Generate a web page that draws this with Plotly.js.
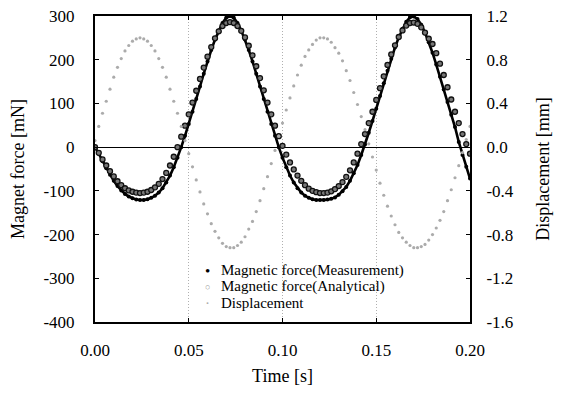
<!DOCTYPE html>
<html>
<head>
<meta charset="utf-8">
<script src="https://cdn.plot.ly/plotly-3.0.1.min.js"></script>
<style>html,body{margin:0;padding:0;background:#fff;}#chart{width:566px;height:396px;}</style>
</head>
<body>
<div id="chart"></div>
<script>
// Time [s]
const time = [0.000,0.002,0.004,0.006,0.008,0.010,0.012,0.014,0.016,0.018,
0.020,0.022,0.024,0.026,0.028,0.030,0.032,0.034,0.036,0.038,
0.040,0.042,0.044,0.046,0.048,0.050,0.052,0.054,0.056,0.058,
0.060,0.062,0.064,0.066,0.068,0.070,0.072,0.074,0.076,0.078,
0.080,0.082,0.084,0.086,0.088,0.090,0.092,0.094,0.096,0.098,
0.100,0.102,0.104,0.106,0.108,0.110,0.112,0.114,0.116,0.118,
0.120,0.122,0.124,0.126,0.128,0.130,0.132,0.134,0.136,0.138,
0.140,0.142,0.144,0.146,0.148,0.150,0.152,0.154,0.156,0.158,
0.160,0.162,0.164,0.166,0.168,0.170,0.172,0.174,0.176,0.178,
0.180,0.182,0.184,0.186,0.188,0.190,0.192,0.194,0.196,0.198,0.200];

// Magnetic force, measurement [mN]
const forceMeasured = [0,-15,-32,-48,-63,-77,-89,-99,-107,-113,
-117,-120,-121,-121,-119,-116,-111,-104,-94,-81,
-65,-46,-24,0,26,53,81,110,139,168,
196,222,246,267,284,296,300,296,284,267,
246,222,196,168,139,110,81,53,26,0,
-24,-46,-65,-81,-94,-104,-111,-116,-119,-121,
-121,-121,-120,-118,-115,-109,-101,-91,-77,-60,
-41,-18,6,33,60,88,117,146,175,202,
228,251,271,287,297,299,293,280,262,240,
216,189,161,132,103,74,46,12,-18,-45,-72];

// Magnetic force, analytical [mN]
const forceAnalytical = [0,-13,-28,-42,-55,-67,-78,-87,-94,-99,
-102,-104,-105,-104,-102,-98,-92,-84,-73,-59,
-42,-22,0,24,49,75,102,129,156,182,
207,229,249,265,277,284,286,284,277,266,
251,232,210,185,158,130,102,75,49,25,
3,-17,-35,-51,-65,-77,-87,-95,-100,-103,
-105,-105,-104,-101,-96,-89,-80,-68,-53,-35,
-15,7,30,55,81,108,135,162,188,212,
233,252,267,278,284,285,282,274,262,248,
236,215,191,165,137,109,81,55,30,7,-15];

// Displacement [mm]
const displacement = [0.06,0.19,0.31,0.42,0.53,0.64,0.73,0.81,0.88,0.93,
0.97,0.99,1.00,0.99,0.97,0.93,0.88,0.81,0.73,0.64,
0.53,0.42,0.31,0.19,0.06,-0.06,-0.18,-0.30,-0.41,-0.52,
-0.61,-0.70,-0.77,-0.83,-0.88,-0.91,-0.92,-0.92,-0.90,-0.87,
-0.82,-0.75,-0.68,-0.59,-0.49,-0.38,-0.27,-0.15,-0.03,0.10,
0.22,0.34,0.45,0.56,0.66,0.75,0.83,0.89,0.94,0.98,
1.00,1.00,0.99,0.96,0.91,0.86,0.79,0.70,0.61,0.50,
0.39,0.28,0.16,0.03,-0.09,-0.21,-0.33,-0.44,-0.54,-0.63,
-0.71,-0.78,-0.83,-0.87,-0.90,-0.92,-0.92,-0.91,-0.89,-0.85,
-0.80,-0.74,-0.67,-0.59,-0.49,-0.39,-0.28,-0.17,-0.05,0.07,0.19];

// Tick labels
const xTickVals = [0, 0.05, 0.10, 0.15, 0.20];
const xTickText = ['0.00', '0.05', '0.10', '0.15', '0.20'];
const yTickVals = [-400, -300, -200, -100, 0, 100, 200, 300];
const yTickText = ['-400', '-300', '-200', '-100', '0', '100', '200', '300'];
const y2TickVals = [-1.6, -1.2, -0.8, -0.4, 0.0, 0.4, 0.8, 1.2];
const y2TickText = ['-1.6', '-1.2', '-0.8', '-0.4', '0.0', '0.4', '0.8', '1.2'];

// Legend entries
const seriesNames = ['Magnetic force(Measurement)', 'Magnetic force(Analytical)', 'Displacement'];

const serif = "'Liberation Serif', 'Times New Roman', serif";
const tickFont = {family: serif, size: 17, color: '#000'};
const titleFont = {family: serif, size: 18, color: '#000'};

const traces = [
  {
    x: time, y: forceMeasured, type: 'scatter', mode: 'lines+markers',
    name: seriesNames[0], showlegend: false,
    line: {color: '#000', width: 2.6},
    marker: {color: '#000', size: 4}
  },
  {
    x: time, y: forceAnalytical, type: 'scatter', mode: 'markers',
    name: seriesNames[1], showlegend: false,
    marker: {color: '#777', size: 5, symbol: 'circle', line: {color: '#111', width: 1.3}}
  },
  {
    x: time, y: displacement, type: 'scatter', mode: 'markers', yaxis: 'y2',
    name: seriesNames[2], showlegend: false,
    marker: {color: '#ababab', size: 3.2}
  }
];

// legend (drawn as text, to keep the compact line spacing of the original)
const legRowsY = [0.1676, 0.1154, 0.0631];
const legSymbols = ['\u2022', '\u25CB', '\u00B7'];
const legSymColors = ['#000', '#999', '#aaa'];
const legSymSizes = [15, 9, 15];
const annotations = [];
for (let i = 0; i < seriesNames.length; i++) {
  annotations.push({
    xref: 'paper', yref: 'paper', x: 0.3013, y: legRowsY[i],
    xanchor: 'center', yanchor: 'middle', showarrow: false,
    text: legSymbols[i], font: {family: serif, size: legSymSizes[i], color: legSymColors[i]}
  });
  annotations.push({
    xref: 'paper', yref: 'paper', x: 0.3306, y: legRowsY[i],
    xanchor: 'left', yanchor: 'middle', showarrow: false,
    text: seriesNames[i], font: {family: serif, size: 15, color: '#000'}
  });
}

const layout = {
  width: 566, height: 396,
  margin: {l: 95, r: 96, t: 16, b: 74},
  paper_bgcolor: '#fff', plot_bgcolor: '#fff',
  font: {family: serif, size: 15, color: '#000'},
  showlegend: false,
  annotations: annotations,
  xaxis: {
    range: [0, 0.2], tickvals: xTickVals, ticktext: xTickText, tickfont: tickFont,
    showgrid: true, gridcolor: '#b0b0b0', griddash: '1px,2px', gridwidth: 1,
    zeroline: false, showline: true, linecolor: '#000', linewidth: 2, mirror: 'ticks',
    ticks: 'inside', ticklen: 4, tickcolor: '#000',
    ticklabelstandoff: 12,
    title: {text: 'Time [s]', font: titleFont, standoff: 10}
  },
  yaxis: {
    range: [-400, 300], tickvals: yTickVals, ticktext: yTickText, tickfont: tickFont,
    showgrid: false, zeroline: true, zerolinecolor: '#000', zerolinewidth: 1,
    showline: true, linecolor: '#000', linewidth: 2,
    ticks: 'inside', ticklen: 4, tickcolor: '#000',
    ticklabelstandoff: 15,
    title: {text: 'Magnet force [mN]', font: titleFont, standoff: 14}
  },
  yaxis2: {
    range: [-1.6, 1.2], tickvals: y2TickVals, ticktext: y2TickText, tickfont: tickFont,
    overlaying: 'y', side: 'right',
    showgrid: false, zeroline: false,
    showline: true, linecolor: '#000', linewidth: 2,
    ticks: 'inside', ticklen: 4, tickcolor: '#000',
    ticklabelstandoff: 11,
    title: {text: 'Displacement [mm]', font: titleFont, standoff: 24}
  }
};

Plotly.newPlot('chart', traces, layout, {displayModeBar: false, staticPlot: true});
</script>
</body>
</html>
